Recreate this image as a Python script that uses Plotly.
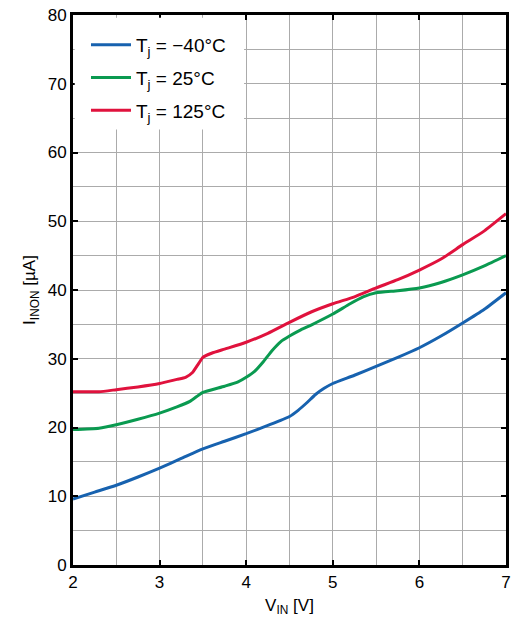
import plotly.graph_objects as go

# Data
x_m40 = [2.0, 2.25, 2.5, 2.75, 3.0, 3.25, 3.5, 3.75, 4.0, 4.25, 4.5, 4.6, 4.7, 4.8, 4.9,
         5.0, 5.25, 5.5, 5.75, 6.0, 6.25, 6.5, 6.75, 7.0]
y_m40 = [9.6, 10.6, 11.6, 12.8, 14.1, 15.5, 16.9, 18.0, 19.1, 20.3, 21.6, 22.5, 23.6, 24.8, 25.7,
         26.4, 27.6, 28.9, 30.2, 31.6, 33.3, 35.2, 37.2, 39.6]

x_25 = [2.0, 2.3, 2.5, 2.75, 3.0, 3.2, 3.35, 3.45, 3.5, 3.75, 3.9, 4.0, 4.1, 4.2, 4.3, 4.4,
        4.5, 4.63, 4.75, 5.0, 5.2, 5.35, 5.5, 5.75, 6.0, 6.25, 6.5, 6.75, 7.0]
y_25 = [19.7, 19.9, 20.4, 21.2, 22.1, 23.0, 23.8, 24.7, 25.1, 26.0, 26.6, 27.3, 28.2, 29.6, 31.2, 32.5,
        33.3, 34.2, 34.9, 36.5, 38.0, 39.0, 39.6, 39.9, 40.3, 41.1, 42.2, 43.5, 45.0]

x_125 = [2.0, 2.3, 2.5, 2.75, 3.0, 3.2, 3.3, 3.38, 3.45, 3.5, 3.6, 3.75, 4.0, 4.25, 4.5, 4.75,
         5.0, 5.25, 5.5, 5.75, 6.0, 6.25, 6.5, 6.75, 7.0]
y_125 = [25.2, 25.2, 25.5, 25.9, 26.4, 27.0, 27.3, 28.0, 29.3, 30.2, 30.8, 31.4, 32.4, 33.7, 35.3, 36.8,
         38.0, 39.0, 40.3, 41.5, 42.9, 44.5, 46.6, 48.6, 51.1]

names = ["T<sub>j</sub> = \u221240\u00b0C", "T<sub>j</sub> = 25\u00b0C", "T<sub>j</sub> = 125\u00b0C"]
colors = ["#1762AF", "#0A9A50", "#E0123D"]
series = [(x_m40, y_m40), (x_25, y_25), (x_125, y_125)]

FONT = "Liberation Sans, Arial, Helvetica, sans-serif"
GRID = "#ababab"

fig = go.Figure()
for (xs, ys), name, col in zip(series, names, colors):
    fig.add_trace(go.Scatter(x=xs, y=ys, mode="lines", name=name, legendgroup=name,
                             line=dict(color=col, width=3, shape="spline", smoothing=0.5)))

# white box behind legend (covers grid)
fig.add_shape(type="rect", xref="paper", yref="paper", x0=0.004, x1=0.395, y0=0.792, y1=0.995,
              fillcolor="white", line=dict(width=0), layer="above")

axis_common = dict(
    showline=True, linecolor="black", linewidth=3, mirror="ticks",
    ticks="inside", ticklen=5, tickwidth=2, tickcolor="black",
    showgrid=True, gridcolor=GRID, gridwidth=1.3,
    zeroline=False,
    tickfont=dict(family=FONT, size=17, color="black"),
)

fig.update_xaxes(range=[2, 7], dtick=1, tick0=2,
                 minor=dict(dtick=0.5, showgrid=True, gridcolor=GRID, gridwidth=1.3),
                 title=dict(text="V<sub>IN</sub> [V]", font=dict(family=FONT, size=17, color="black"), standoff=8),
                 **axis_common)
fig.update_yaxes(range=[0, 80], dtick=10, tick0=0,
                 minor=dict(dtick=5, showgrid=True, gridcolor=GRID, gridwidth=1.3),
                 title=dict(text="I<sub>INON</sub> [\u00b5A]", font=dict(family=FONT, size=17, color="black"), standoff=8),
                 **axis_common)

fig.update_layout(
    width=516, height=621,
    margin=dict(l=73, r=5, t=15, b=56),
    paper_bgcolor="white", plot_bgcolor="white",
    font=dict(family=FONT, size=16, color="black"),
    showlegend=True,
    legend=dict(x=0.03, y=0.98, xanchor="left", yanchor="top", bgcolor="rgba(0,0,0,0)",
                font=dict(family=FONT, size=19, color="black"), tracegroupgap=5,
                itemwidth=40),
)

fig.write_html("out.html", config={"displayModeBar": False},
               post_script="document.body.style.margin='0';document.body.style.overflow='hidden';")
